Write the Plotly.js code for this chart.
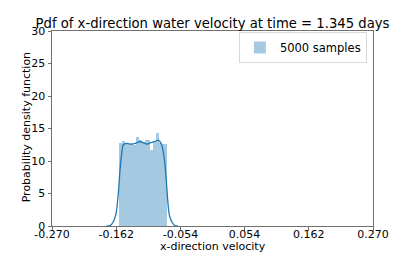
<!DOCTYPE html>
<html>
<head>
<meta charset="utf-8">
<script src="https://cdn.plot.ly/plotly-3.0.1.min.js"></script>
<style>html,body{margin:0;padding:0;background:#fff;}#chart{width:415px;height:253px;}</style>
</head>
<body>
<div id="chart"></div>
<script>
// Histogram bins (density)
const binStart = -0.1568;
const binWidth = 0.00476;
const binHeights = [12.7, 13.1, 12.7, 12.6, 12.7, 12.5, 13.7, 13.3, 13.0, 13.2, 13.3, 11.7, 13.1, 14.3, 12.8, 12.6, 12.6];
// KDE curve points
const kdeX = [-0.178, -0.1724, -0.1668, -0.1623, -0.1584, -0.1556, -0.1527, -0.150, -0.1443, -0.1359, -0.1275, -0.1220, -0.1164, -0.1107, -0.1051, -0.0967, -0.0912, -0.0855, -0.0816, -0.0782, -0.0754, -0.0727, -0.0686, -0.0631, -0.058];
const kdeY = [0.0, 0.05, 0.66, 1.9, 5.0, 8.6, 11.2, 12.5, 12.7, 12.6, 12.8, 13.0, 12.8, 12.6, 12.8, 13.0, 13.2, 12.5, 10.7, 7.6, 4.0, 1.7, 0.66, 0.05, 0.0];
const xTickVals = [-0.270, -0.162, -0.054, 0.054, 0.162, 0.270];
const xTickText = ['-0.270', '-0.162', '-0.054', '0.054', '0.162', '0.270'];
const yTickVals = [0, 5, 10, 15, 20, 25, 30];
const legendLabel = '5000 samples';
const titleText = 'Pdf of x-direction water velocity at time = 1.345 days';
const xTitle = 'x-direction velocity';
const yTitle = 'Probability density function';

const binCenters = binHeights.map((_, i) => binStart + binWidth * (i + 0.5));

const font = 'DejaVu Sans, sans-serif';
const traces = [
  {
    type: 'bar', x: binCenters, y: binHeights, width: binWidth,
    marker: {color: 'rgba(31,119,180,0.4)', line: {width: 0}},
    name: legendLabel, showlegend: true, hoverinfo: 'skip'
  },
  {
    type: 'scatter', mode: 'lines', x: kdeX, y: kdeY,
    line: {color: '#1f77b4', width: 1.3, shape: 'spline', smoothing: 0.6},
    showlegend: false, hoverinfo: 'skip'
  },
  // empty trace so the label axis (x2) is drawn
  {type: 'scatter', mode: 'lines', x: [], y: [], xaxis: 'x2', yaxis: 'y', showlegend: false, hoverinfo: 'skip'}
];
const axisCommon = {
  showline: true, mirror: true, linecolor: '#707070', linewidth: 1,
  ticks: 'outside', ticklen: 3.5, tickwidth: 1, tickcolor: '#707070',
  showgrid: false, zeroline: false,
  tickfont: {family: font, size: 11, color: '#000'}
};
const layout = {
  width: 415, height: 253,
  margin: {l: 52, r: 42, t: 31, b: 27, pad: 0},
  paper_bgcolor: '#fff', plot_bgcolor: '#fff',
  bargap: 0,
  title: {text: titleText,
          font: {family: font, size: 13.2, color: '#000'},
          xref: 'paper', x: 0.5, xanchor: 'center', yref: 'container', y: 0.907, yanchor: 'middle'},
  xaxis: Object.assign({}, axisCommon, {
    range: [-0.27, 0.27], tickmode: 'array', tickvals: xTickVals, ticktext: xTickText,
    showticklabels: false
  }),
  xaxis2: {
    overlaying: 'x', anchor: 'y', side: 'bottom',
    range: [-0.27, 0.27], tickmode: 'array', tickvals: xTickVals, ticktext: xTickText,
    ticks: '', showline: false, showgrid: false, zeroline: false,
    tickfont: {family: font, size: 11, color: '#000'}
  },
  yaxis: Object.assign({}, axisCommon, {
    range: [0, 30], tickmode: 'array', tickvals: yTickVals
  }),
  annotations: [
    {text: xTitle, xref: 'paper', yref: 'paper', x: 0.5, y: -0.103, xanchor: 'center', yanchor: 'middle',
     showarrow: false, font: {family: font, size: 11, color: '#000'}},
    {text: yTitle, xref: 'paper', yref: 'paper', x: -0.081, y: 0.506, xanchor: 'center', yanchor: 'middle',
     textangle: -90, showarrow: false, font: {family: font, size: 11, color: '#000'}}
  ],
  legend: {
    x: 0.981, y: 0.995, xanchor: 'right', yanchor: 'top',
    bgcolor: 'rgba(255,255,255,0.8)', bordercolor: '#d9d9d9', borderwidth: 1,
    font: {family: font, size: 11.5, color: '#000'}
  },
  showlegend: true
};
Plotly.newPlot('chart', traces, layout, {displayModeBar: false, staticPlot: true});
</script>
</body>
</html>
